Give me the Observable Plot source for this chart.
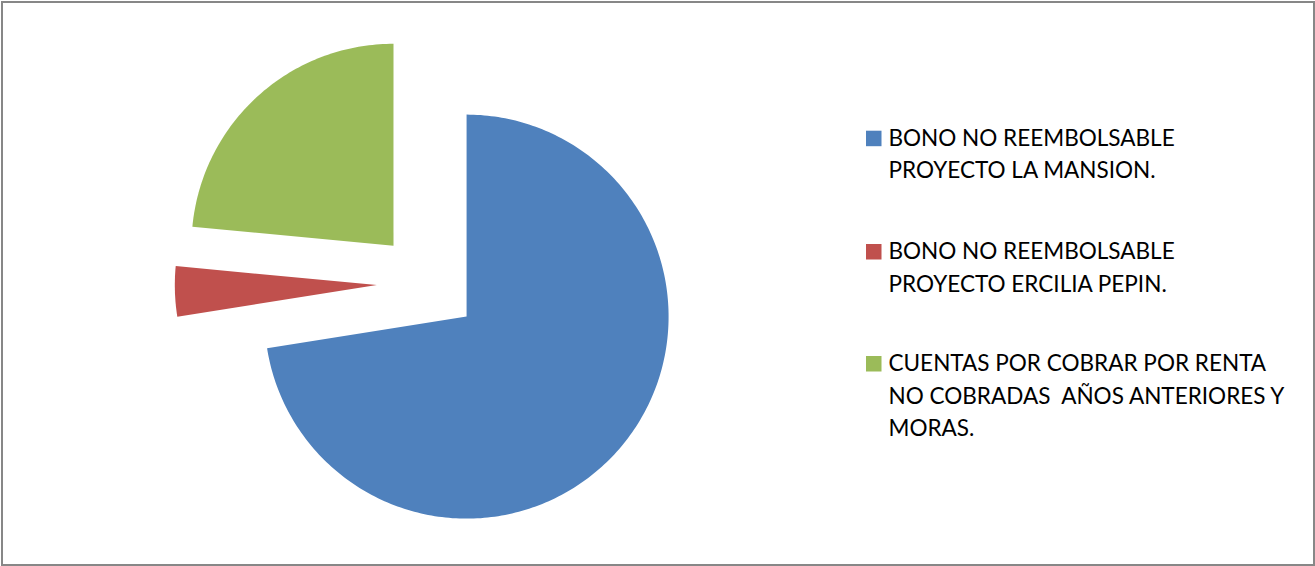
<!DOCTYPE html>
<html>
<head>
<meta charset="utf-8">
<script src="https://cdn.jsdelivr.net/npm/d3@7"></script>
<script src="https://cdn.jsdelivr.net/npm/@observablehq/plot@0.6"></script>
<style>
  html, body { margin: 0; padding: 0; background: #fff; }
  #wrap { position: relative; width: 1315px; height: 566px; overflow: hidden; background: #fff; }
  #frame { position: absolute; left: 1px; top: 1px; width: 1310px; height: 561px; border: 2px solid #878787; pointer-events: none; }
  #wrap > svg { position: absolute; left: 0; top: 0; }
</style>
</head>
<body>
<div id="wrap"><div id="frame"></div></div>
<script>
// ---- data ----
const categories = [
  "BONO NO REEMBOLSABLE PROYECTO LA MANSION.",
  "BONO NO REEMBOLSABLE PROYECTO ERCILIA PEPIN.",
  "CUENTAS POR COBRAR POR RENTA NO COBRADAS  AÑOS ANTERIORES Y MORAS."
];
const values = [72.5, 4.0, 23.5];
const colors = ["#4F81BD", "#C0504D", "#9BBB59"];
const legendLines = [
  ["BONO NO REEMBOLSABLE", "PROYECTO LA MANSION."],
  ["BONO NO REEMBOLSABLE", "PROYECTO ERCILIA PEPIN."],
  ["CUENTAS POR COBRAR POR RENTA", "NO COBRADAS  AÑOS ANTERIORES Y", "MORAS."]
];

// ---- layout ----
const W = 1315, H = 566;
const cx = 427.3, cy = 283, R = 202;     // pie centre & radius (px)
const explode = 51 / R;                   // explosion distance (in radii)

// ---- build slice polygons from values (unit radius, y downwards) ----
const total = d3.sum(values);
const pts = [];
let a = 0;
values.forEach((v, i) => {
  const a0 = a, a1 = a + (v / total) * 2 * Math.PI;
  a = a1;
  const m = (a0 + a1) / 2;
  const ox = explode * Math.sin(m), oy = -explode * Math.cos(m);
  pts.push({name: categories[i], x: ox, y: oy});
  const n = Math.max(8, Math.ceil((a1 - a0) / (Math.PI / 180)));
  for (let k = 0; k <= n; k++) {
    const t = a0 + (a1 - a0) * k / n;
    pts.push({name: categories[i], x: ox + Math.sin(t), y: oy - Math.cos(t)});
  }
});

const chart = Plot.plot({
  width: W,
  height: H,
  margin: 0,
  x: {domain: [-cx / R, (W - cx) / R], range: [0, W], axis: null},
  y: {domain: [-cy / R, (H - cy) / R], range: [0, H], axis: null},
  color: {domain: categories, range: colors},
  marks: [
    Plot.line(pts, {x: "x", y: "y", z: "name", fill: "name", stroke: "none", curve: "linear-closed"})
  ]
});
document.getElementById("wrap").insertBefore(chart, document.getElementById("frame"));

// ---- legend (real text) ----
const fam = "Lato";
const ctx = document.createElement("canvas").getContext("2d");
ctx.font = `100px ${fam}`;
const s1 = 285 / ctx.measureText("BONO NO REEMBOLSABLE").width;
const s2 = 379.5 / ctx.measureText("CUENTAS POR COBRAR POR RENTA").width;
const fontSize = 100 * (s1 + s2) / 2;

const lg = d3.select(chart).append("g").attr("text-anchor", "start");
const firstBaselines = [145.7, 259, 371];
const lineStep = 32.6;
legendLines.forEach((lines, i) => {
  const b = firstBaselines[i];
  lg.append("rect")
    .attr("x", 866).attr("y", b - 15).attr("width", 15.5).attr("height", 15.5)
    .attr("fill", colors[i]);
  lines.forEach((t, j) => {
    lg.append("text")
      .attr("x", 888.5).attr("y", b + j * lineStep)
      .attr("text-anchor", "start")
      .attr("font-family", fam).attr("font-size", fontSize)
      .attr("fill", "#000")
      .style("white-space", "pre")
      .attr("xml:space", "preserve")
      .text(t);
  });
});
</script>
</body>
</html>
